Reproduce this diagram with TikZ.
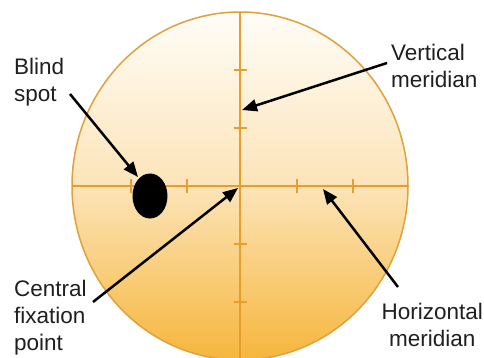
\documentclass[tikz,border=0pt]{standalone}
\usepackage{fontspec}
\setmainfont{Liberation Sans}
\usetikzlibrary{arrows.meta}

\definecolor{rimorange}{HTML}{E2A03A}
\definecolor{axisorange}{HTML}{E89E2C}
\definecolor{fieldtop}{HTML}{FFFDF8}
\definecolor{fieldmid}{HTML}{FCE4B8}
\definecolor{fieldbot}{HTML}{F6B63C}

\tikzset{
  meridian/.style={draw=axisorange, line width=2pt},
  tick/.style={draw=axisorange, line width=1.8pt},
  pointer/.style={-{Triangle[length=15pt,width=12pt]}, line width=2.5pt},
  fieldtext/.style={font=\fontsize{22.5}{26.8}\selectfont, inner sep=0pt, text=black!88},
}

\begin{document}
\begin{tikzpicture}[x=1pt,y=-1pt]
    \useasboundingbox (0,0) rectangle (484,358);

    % Visual field
    \draw[rimorange, line width=1.5pt, top color=fieldtop, bottom color=fieldbot, middle color=fieldmid]
        (240,186) ellipse [x radius=168, y radius=174];

    % Meridians
    \coordinate (fix) at (240,186);
    \draw[meridian] (240,12) -- (240,362);
    \draw[meridian] (72,186) -- (408,186);

    % Ticks
    \foreach \y in {70,128,244,302} {
        \draw[tick] (233.5,\y) -- (246.5,\y);
    }
    \foreach \x in {131,187,297,353} {
        \draw[tick] (\x,179.5) -- (\x,192.5);
    }

    % Blind spot
    \fill[black] (150,196) ellipse [x radius=17.5, y radius=22.5];

    % Labels (base = last line)
    \node[fieldtext, align=left, anchor=base west] (blind) at (14,101.5) {Blind\\spot};
    \node[fieldtext, align=left, anchor=base west] (vert) at (391,87.3) {Vertical\\meridian};
    \node[fieldtext, align=left, anchor=base west] (central) at (14,350) {Central\\fixation\\point};
    \node[fieldtext, align=center, anchor=base east] (horiz) at (483,346.7) {Horizontal\\meridian};

    % Pointers
    \coordinate (blindtail) at (70,94);
    \coordinate (blindtip) at (138,177);
    \coordinate (verttail) at (387,63);
    \coordinate (verttip) at (242,110);
    \coordinate (centraltail) at (93,302);
    \coordinate (horiztail) at (398,287);
    \coordinate (horiztip) at (323,189);
    \draw[pointer] (blindtail) -- (blindtip);
    \draw[pointer] (verttail) -- (verttip);
    \draw[pointer] (centraltail) -- ([shift={(-2,2)}]fix);
    \draw[pointer] (horiztail) -- (horiztip);
\end{tikzpicture}
\end{document}
